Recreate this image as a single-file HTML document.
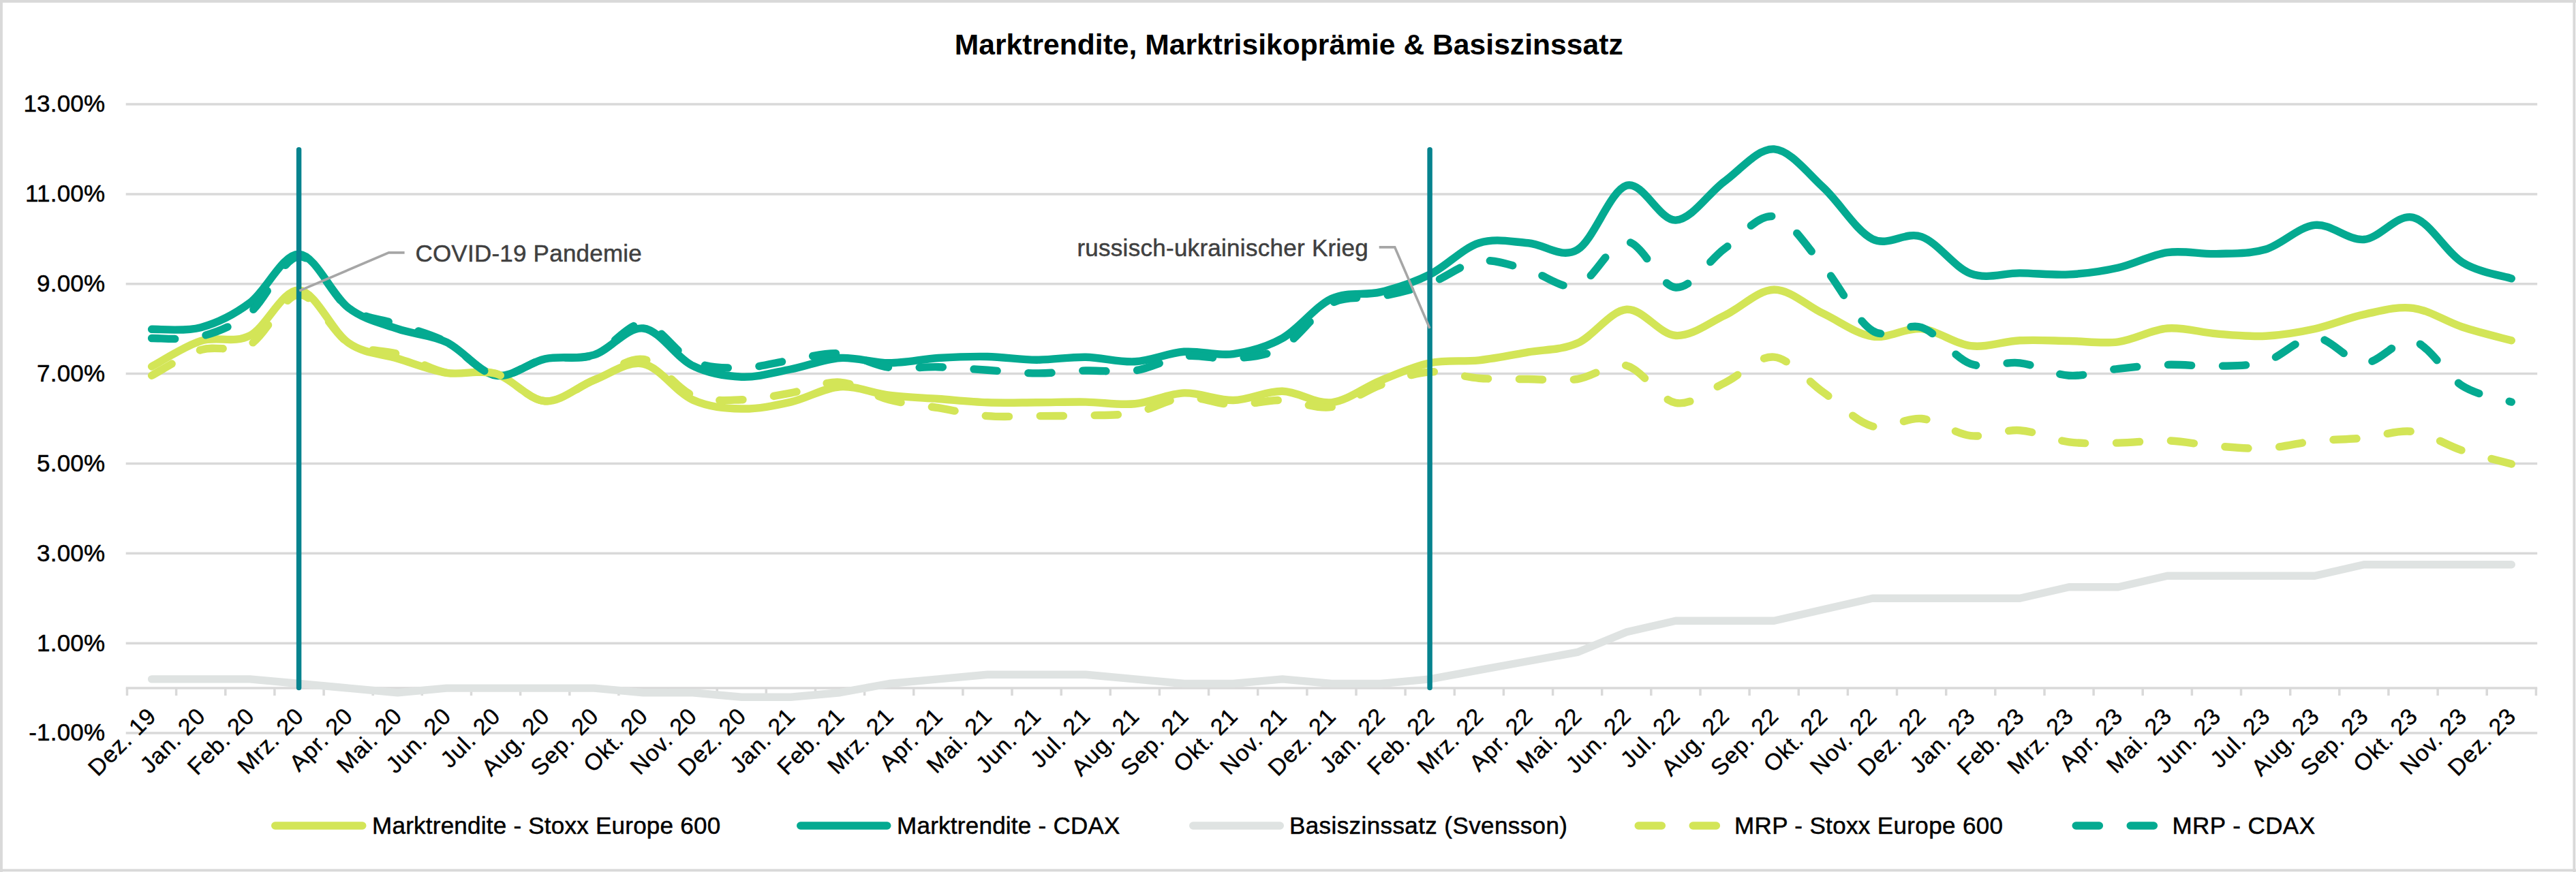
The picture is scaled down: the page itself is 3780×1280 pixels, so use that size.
<!DOCTYPE html>
<html lang="de"><head><meta charset="utf-8"><title>Marktrendite, Marktrisikoprämie &amp; Basiszinssatz</title>
<style>html,body{margin:0;padding:0;background:#fff}body{width:3780px;height:1280px;overflow:hidden}svg{display:block}text{font-family:"Liberation Sans",sans-serif}</style></head><body>
<svg width="3780" height="1280" viewBox="0 0 3780 1280">
<rect x="0" y="0" width="3780" height="1280" fill="#fff"/>
<g fill="#d9d9d9"><rect x="0" y="0" width="3.9" height="1280"/><rect x="0" y="0" width="3780" height="3.9"/><rect x="3775.4" y="0" width="3.9" height="1280"/><rect x="0" y="1275.6" width="3780" height="3.8"/></g>
<text x="1891.2" y="80.4" text-anchor="middle" font-weight="bold" font-size="42.6" textLength="981" lengthAdjust="spacing" fill="#000">Marktrendite, Marktrisikoprämie &amp; Basiszinssatz</text>
<g stroke="#d9d9d9" stroke-width="3.5" fill="none">
<line x1="184.7" y1="153.0" x2="3723.2" y2="153.0"/>
<line x1="184.7" y1="284.9" x2="3723.2" y2="284.9"/>
<line x1="184.7" y1="416.7" x2="3723.2" y2="416.7"/>
<line x1="184.7" y1="548.6" x2="3723.2" y2="548.6"/>
<line x1="184.7" y1="680.5" x2="3723.2" y2="680.5"/>
<line x1="184.7" y1="812.3" x2="3723.2" y2="812.3"/>
<line x1="184.7" y1="944.2" x2="3723.2" y2="944.2"/>
<line x1="184.7" y1="1076.0" x2="3723.2" y2="1076.0"/>
</g>
<g font-size="35" fill="#000" stroke="#000" stroke-width="0.5" stroke-linejoin="round" text-anchor="end" letter-spacing="0.2">
<text x="154.3" y="164.3">13.00%</text>
<text x="154.3" y="296.2">11.00%</text>
<text x="154.3" y="428.0">9.00%</text>
<text x="154.3" y="559.9">7.00%</text>
<text x="154.3" y="691.8">5.00%</text>
<text x="154.3" y="823.6">3.00%</text>
<text x="154.3" y="955.5">1.00%</text>
<text x="154.3" y="1087.3">-1.00%</text>
</g>
<g font-size="34" fill="#000" stroke="#000" stroke-width="0.4" stroke-linejoin="round" text-anchor="end" letter-spacing="1">
<text transform="translate(231.4,1053.1) rotate(-45)">Dez. 19</text>
<text transform="translate(303.5,1053.1) rotate(-45)">Jan. 20</text>
<text transform="translate(375.7,1053.1) rotate(-45)">Feb. 20</text>
<text transform="translate(447.8,1053.1) rotate(-45)">Mrz. 20</text>
<text transform="translate(519.9,1053.1) rotate(-45)">Apr. 20</text>
<text transform="translate(592.1,1053.1) rotate(-45)">Mai. 20</text>
<text transform="translate(664.2,1053.1) rotate(-45)">Jun. 20</text>
<text transform="translate(736.3,1053.1) rotate(-45)">Jul. 20</text>
<text transform="translate(808.5,1053.1) rotate(-45)">Aug. 20</text>
<text transform="translate(880.6,1053.1) rotate(-45)">Sep. 20</text>
<text transform="translate(952.8,1053.1) rotate(-45)">Okt. 20</text>
<text transform="translate(1024.9,1053.1) rotate(-45)">Nov. 20</text>
<text transform="translate(1097.0,1053.1) rotate(-45)">Dez. 20</text>
<text transform="translate(1169.2,1053.1) rotate(-45)">Jan. 21</text>
<text transform="translate(1241.3,1053.1) rotate(-45)">Feb. 21</text>
<text transform="translate(1313.5,1053.1) rotate(-45)">Mrz. 21</text>
<text transform="translate(1385.6,1053.1) rotate(-45)">Apr. 21</text>
<text transform="translate(1457.8,1053.1) rotate(-45)">Mai. 21</text>
<text transform="translate(1529.9,1053.1) rotate(-45)">Jun. 21</text>
<text transform="translate(1602.0,1053.1) rotate(-45)">Jul. 21</text>
<text transform="translate(1674.2,1053.1) rotate(-45)">Aug. 21</text>
<text transform="translate(1746.3,1053.1) rotate(-45)">Sep. 21</text>
<text transform="translate(1818.5,1053.1) rotate(-45)">Okt. 21</text>
<text transform="translate(1890.6,1053.1) rotate(-45)">Nov. 21</text>
<text transform="translate(1962.7,1053.1) rotate(-45)">Dez. 21</text>
<text transform="translate(2034.9,1053.1) rotate(-45)">Jan. 22</text>
<text transform="translate(2107.0,1053.1) rotate(-45)">Feb. 22</text>
<text transform="translate(2179.2,1053.1) rotate(-45)">Mrz. 22</text>
<text transform="translate(2251.3,1053.1) rotate(-45)">Apr. 22</text>
<text transform="translate(2323.4,1053.1) rotate(-45)">Mai. 22</text>
<text transform="translate(2395.6,1053.1) rotate(-45)">Jun. 22</text>
<text transform="translate(2467.7,1053.1) rotate(-45)">Jul. 22</text>
<text transform="translate(2539.9,1053.1) rotate(-45)">Aug. 22</text>
<text transform="translate(2612.0,1053.1) rotate(-45)">Sep. 22</text>
<text transform="translate(2684.1,1053.1) rotate(-45)">Okt. 22</text>
<text transform="translate(2756.3,1053.1) rotate(-45)">Nov. 22</text>
<text transform="translate(2828.4,1053.1) rotate(-45)">Dez. 22</text>
<text transform="translate(2900.6,1053.1) rotate(-45)">Jan. 23</text>
<text transform="translate(2972.7,1053.1) rotate(-45)">Feb. 23</text>
<text transform="translate(3044.8,1053.1) rotate(-45)">Mrz. 23</text>
<text transform="translate(3117.0,1053.1) rotate(-45)">Apr. 23</text>
<text transform="translate(3189.1,1053.1) rotate(-45)">Mai. 23</text>
<text transform="translate(3261.2,1053.1) rotate(-45)">Jun. 23</text>
<text transform="translate(3333.4,1053.1) rotate(-45)">Jul. 23</text>
<text transform="translate(3405.5,1053.1) rotate(-45)">Aug. 23</text>
<text transform="translate(3477.7,1053.1) rotate(-45)">Sep. 23</text>
<text transform="translate(3549.8,1053.1) rotate(-45)">Okt. 23</text>
<text transform="translate(3622.0,1053.1) rotate(-45)">Nov. 23</text>
<text transform="translate(3694.1,1053.1) rotate(-45)">Dez. 23</text>
</g>
<g stroke="#d9d9d9" stroke-width="3.5" fill="none">
<line x1="184.7" y1="1010.1" x2="3723.2" y2="1010.1"/>
<line x1="186.5" y1="1010.1" x2="186.5" y2="1021.1"/>
<line x1="258.6" y1="1010.1" x2="258.6" y2="1021.1"/>
<line x1="330.8" y1="1010.1" x2="330.8" y2="1021.1"/>
<line x1="402.9" y1="1010.1" x2="402.9" y2="1021.1"/>
<line x1="475.1" y1="1010.1" x2="475.1" y2="1021.1"/>
<line x1="547.2" y1="1010.1" x2="547.2" y2="1021.1"/>
<line x1="619.3" y1="1010.1" x2="619.3" y2="1021.1"/>
<line x1="691.5" y1="1010.1" x2="691.5" y2="1021.1"/>
<line x1="763.6" y1="1010.1" x2="763.6" y2="1021.1"/>
<line x1="835.8" y1="1010.1" x2="835.8" y2="1021.1"/>
<line x1="907.9" y1="1010.1" x2="907.9" y2="1021.1"/>
<line x1="980.0" y1="1010.1" x2="980.0" y2="1021.1"/>
<line x1="1052.2" y1="1010.1" x2="1052.2" y2="1021.1"/>
<line x1="1124.3" y1="1010.1" x2="1124.3" y2="1021.1"/>
<line x1="1196.5" y1="1010.1" x2="1196.5" y2="1021.1"/>
<line x1="1268.6" y1="1010.1" x2="1268.6" y2="1021.1"/>
<line x1="1340.7" y1="1010.1" x2="1340.7" y2="1021.1"/>
<line x1="1412.9" y1="1010.1" x2="1412.9" y2="1021.1"/>
<line x1="1485.0" y1="1010.1" x2="1485.0" y2="1021.1"/>
<line x1="1557.2" y1="1010.1" x2="1557.2" y2="1021.1"/>
<line x1="1629.3" y1="1010.1" x2="1629.3" y2="1021.1"/>
<line x1="1701.4" y1="1010.1" x2="1701.4" y2="1021.1"/>
<line x1="1773.6" y1="1010.1" x2="1773.6" y2="1021.1"/>
<line x1="1845.7" y1="1010.1" x2="1845.7" y2="1021.1"/>
<line x1="1917.9" y1="1010.1" x2="1917.9" y2="1021.1"/>
<line x1="1990.0" y1="1010.1" x2="1990.0" y2="1021.1"/>
<line x1="2062.1" y1="1010.1" x2="2062.1" y2="1021.1"/>
<line x1="2134.3" y1="1010.1" x2="2134.3" y2="1021.1"/>
<line x1="2206.4" y1="1010.1" x2="2206.4" y2="1021.1"/>
<line x1="2278.6" y1="1010.1" x2="2278.6" y2="1021.1"/>
<line x1="2350.7" y1="1010.1" x2="2350.7" y2="1021.1"/>
<line x1="2422.8" y1="1010.1" x2="2422.8" y2="1021.1"/>
<line x1="2495.0" y1="1010.1" x2="2495.0" y2="1021.1"/>
<line x1="2567.1" y1="1010.1" x2="2567.1" y2="1021.1"/>
<line x1="2639.3" y1="1010.1" x2="2639.3" y2="1021.1"/>
<line x1="2711.4" y1="1010.1" x2="2711.4" y2="1021.1"/>
<line x1="2783.5" y1="1010.1" x2="2783.5" y2="1021.1"/>
<line x1="2855.7" y1="1010.1" x2="2855.7" y2="1021.1"/>
<line x1="2927.8" y1="1010.1" x2="2927.8" y2="1021.1"/>
<line x1="3000.0" y1="1010.1" x2="3000.0" y2="1021.1"/>
<line x1="3072.1" y1="1010.1" x2="3072.1" y2="1021.1"/>
<line x1="3144.2" y1="1010.1" x2="3144.2" y2="1021.1"/>
<line x1="3216.4" y1="1010.1" x2="3216.4" y2="1021.1"/>
<line x1="3288.5" y1="1010.1" x2="3288.5" y2="1021.1"/>
<line x1="3360.7" y1="1010.1" x2="3360.7" y2="1021.1"/>
<line x1="3432.8" y1="1010.1" x2="3432.8" y2="1021.1"/>
<line x1="3504.9" y1="1010.1" x2="3504.9" y2="1021.1"/>
<line x1="3577.1" y1="1010.1" x2="3577.1" y2="1021.1"/>
<line x1="3649.2" y1="1010.1" x2="3649.2" y2="1021.1"/>
<line x1="3721.4" y1="1010.1" x2="3721.4" y2="1021.1"/>
</g>
<g fill="none" stroke-width="11.4" stroke-linecap="round" stroke-linejoin="round">
<path stroke="#d3e557" d="M222.6,538.0C234.6,531.8 270.7,508.0 294.7,500.5C318.8,492.9 342.8,505.0 366.9,492.5C390.9,480.1 414.9,424.2 439.0,426.0C463.0,427.7 487.1,486.4 511.1,503.1C535.2,519.8 559.2,518.8 583.3,526.2C607.3,533.5 631.4,543.5 655.4,547.3C679.5,551.0 703.5,541.7 727.5,548.6C751.6,555.5 775.6,587.3 799.7,588.8C823.7,590.3 847.8,566.9 871.8,557.8C895.9,548.7 919.9,529.3 944.0,534.1C968.0,538.9 992.1,575.8 1016.1,586.8C1040.2,597.8 1064.2,599.5 1088.2,600.0C1112.3,600.6 1136.3,595.5 1160.4,590.1C1184.4,584.7 1208.5,569.4 1232.5,567.7C1256.6,566.1 1280.6,577.3 1304.7,580.2C1328.7,583.2 1352.8,583.8 1376.8,585.5C1400.9,587.3 1424.9,589.9 1449.0,590.8C1473.0,591.7 1497.0,590.9 1521.1,590.8C1545.1,590.7 1569.2,589.8 1593.2,590.1C1617.3,590.5 1641.3,595.0 1665.4,592.8C1689.4,590.6 1713.5,577.8 1737.5,576.9C1761.6,576.1 1785.6,587.9 1809.7,587.5C1833.7,587.0 1857.7,573.8 1881.8,574.3C1905.8,574.9 1929.9,593.4 1953.9,590.8C1978.0,588.1 2002.0,568.1 2026.1,558.5C2050.1,548.8 2074.2,537.7 2098.2,532.8C2122.3,527.8 2146.3,531.4 2170.3,528.8C2194.4,526.2 2218.4,521.1 2242.5,516.9C2266.5,512.8 2290.6,514.2 2314.6,503.8C2338.7,493.3 2362.7,456.2 2386.8,454.3C2410.8,452.4 2434.9,491.1 2458.9,492.5C2483.0,494.0 2507.0,474.1 2531.1,462.9C2555.1,451.7 2579.1,425.7 2603.2,425.3C2627.2,424.9 2651.3,448.8 2675.3,460.2C2699.4,471.7 2723.4,490.1 2747.5,493.9C2771.5,497.6 2795.6,480.4 2819.6,482.7C2843.7,485.0 2867.7,504.9 2891.8,507.7C2915.8,510.6 2939.8,501.0 2963.9,499.8C2987.9,498.6 3012.0,500.1 3036.0,500.5C3060.1,500.8 3084.1,504.9 3108.2,501.8C3132.2,498.7 3156.3,484.0 3180.3,482.0C3204.4,480.0 3228.4,488.0 3252.4,489.9C3276.5,491.8 3300.5,494.4 3324.6,493.2C3348.6,492.0 3372.7,487.9 3396.7,482.7C3420.8,477.4 3444.8,466.6 3468.9,461.6C3492.9,456.5 3517.0,449.3 3541.0,452.3C3565.1,455.4 3589.1,472.1 3613.2,480.0C3637.2,487.9 3673.3,496.5 3685.3,499.8"/>
<path stroke="#04aa91" d="M222.6,483.3C234.6,482.9 270.7,487.2 294.7,480.7C318.8,474.2 342.8,462.3 366.9,444.4C390.9,426.5 414.9,372.0 439.0,373.2C463.0,374.4 487.1,433.4 511.1,451.7C535.2,469.9 559.2,474.2 583.3,482.7C607.3,491.1 631.4,491.0 655.4,502.4C679.5,513.9 703.5,547.2 727.5,551.2C751.6,555.3 775.6,531.9 799.7,526.8C823.7,521.8 847.8,528.4 871.8,520.9C895.9,513.4 919.9,479.4 944.0,482.0C968.0,484.6 992.1,524.9 1016.1,536.7C1040.2,548.6 1064.2,552.3 1088.2,553.2C1112.3,554.1 1136.3,546.6 1160.4,542.0C1184.4,537.4 1208.5,527.1 1232.5,525.5C1256.6,524.0 1280.6,532.8 1304.7,532.8C1328.7,532.8 1352.8,527.1 1376.8,525.5C1400.9,524.0 1424.9,523.1 1449.0,523.5C1473.0,524.0 1497.0,528.0 1521.1,528.2C1545.1,528.3 1569.2,523.8 1593.2,524.2C1617.3,524.6 1641.3,532.1 1665.4,530.8C1689.4,529.5 1713.5,518.2 1737.5,516.3C1761.6,514.4 1785.6,522.9 1809.7,519.6C1833.7,516.3 1857.7,510.0 1881.8,496.5C1905.8,483.0 1929.9,449.8 1953.9,438.5C1978.0,427.2 2002.0,434.5 2026.1,428.6C2050.1,422.7 2074.2,414.9 2098.2,402.9C2122.3,390.9 2146.3,364.4 2170.3,356.7C2194.4,349.0 2218.4,355.1 2242.5,356.7C2266.5,358.4 2290.6,380.7 2314.6,366.6C2338.7,352.6 2362.7,279.6 2386.8,272.3C2410.8,265.1 2434.9,324.2 2458.9,323.1C2483.0,322.0 2507.0,283.1 2531.1,265.8C2555.1,248.4 2579.1,217.4 2603.2,218.9C2627.2,220.5 2651.3,253.0 2675.3,275.0C2699.4,297.0 2723.4,338.7 2747.5,350.8C2771.5,362.9 2795.6,339.0 2819.6,347.5C2843.7,356.0 2867.7,392.7 2891.8,401.6C2915.8,410.5 2939.8,400.7 2963.9,400.9C2987.9,401.1 3012.0,404.2 3036.0,402.9C3060.1,401.6 3084.1,398.4 3108.2,393.0C3132.2,387.6 3156.3,374.0 3180.3,370.6C3204.4,367.2 3228.4,373.3 3252.4,372.6C3276.5,371.8 3300.5,373.0 3324.6,366.0C3348.6,358.9 3372.7,332.8 3396.7,330.4C3420.8,327.9 3444.8,353.3 3468.9,351.5C3492.9,349.6 3517.0,313.5 3541.0,319.2C3565.1,324.8 3589.1,370.1 3613.2,385.1C3637.2,400.0 3673.3,404.9 3685.3,408.8"/>
<path stroke="#dfe3e2" d="M222.6,996.9L294.7,996.9L366.9,996.9L439.0,1003.5L511.1,1010.1L583.3,1016.7L655.4,1010.1L727.5,1010.1L799.7,1010.1L871.8,1010.1L944.0,1016.7L1016.1,1016.7L1088.2,1023.3L1160.4,1023.3L1232.5,1016.7L1304.7,1003.5L1376.8,996.9L1449.0,990.3L1521.1,990.3L1593.2,990.3L1665.4,996.9L1737.5,1003.5L1809.7,1003.5L1881.8,996.9L1953.9,1003.5L2026.1,1003.5L2098.2,996.9L2170.3,983.7L2242.5,970.5L2314.6,957.4L2386.8,927.7L2458.9,911.2L2531.1,911.2L2603.2,911.2L2675.3,894.7L2747.5,878.2L2819.6,878.2L2891.8,878.2L2963.9,878.2L3036.0,861.8L3108.2,861.8L3180.3,845.3L3252.4,845.3L3324.6,845.3L3396.7,845.3L3468.9,828.8L3541.0,828.8L3613.2,828.8L3685.3,828.8"/>
<path stroke="#d3e557" stroke-dasharray="34.2 45.8" d="M222.6,551.2C234.6,545.0 270.7,521.2 294.7,513.6C318.8,506.1 342.8,519.3 366.9,505.7C390.9,492.2 414.9,433.0 439.0,432.6C463.0,432.1 487.1,488.6 511.1,503.1C535.2,517.6 559.2,512.2 583.3,519.6C607.3,526.9 631.4,542.4 655.4,547.3C679.5,552.1 703.5,541.7 727.5,548.6C751.6,555.5 775.6,587.3 799.7,588.8C823.7,590.3 847.8,568.0 871.8,557.8C895.9,547.6 919.9,523.8 944.0,527.5C968.0,531.2 992.1,570.3 1016.1,580.2C1040.2,590.1 1064.2,587.4 1088.2,586.8C1112.3,586.3 1136.3,581.2 1160.4,576.9C1184.4,572.7 1208.5,559.5 1232.5,561.1C1256.6,562.8 1280.6,580.6 1304.7,586.8C1328.7,593.1 1352.8,594.7 1376.8,598.7C1400.9,602.7 1424.9,608.6 1449.0,610.6C1473.0,612.5 1497.0,610.7 1521.1,610.6C1545.1,610.5 1569.2,610.7 1593.2,609.9C1617.3,609.1 1641.3,610.3 1665.4,605.9C1689.4,601.6 1713.5,585.5 1737.5,583.5C1761.6,581.6 1785.6,593.4 1809.7,594.1C1833.7,594.7 1857.7,586.9 1881.8,587.5C1905.8,588.0 1929.9,601.1 1953.9,597.4C1978.0,593.6 2002.0,573.6 2026.1,565.1C2050.1,556.5 2074.2,547.6 2098.2,546.0C2122.3,544.3 2146.3,553.4 2170.3,555.2C2194.4,556.9 2218.4,556.3 2242.5,556.5C2266.5,556.7 2290.6,559.8 2314.6,556.5C2338.7,553.2 2362.7,530.9 2386.8,536.7C2410.8,542.5 2434.9,587.3 2458.9,591.4C2483.0,595.6 2507.0,573.0 2531.1,561.8C2555.1,550.6 2579.1,521.9 2603.2,524.2C2627.2,526.5 2651.3,558.7 2675.3,575.6C2699.4,592.5 2723.4,619.2 2747.5,625.7C2771.5,632.2 2795.6,612.2 2819.6,614.5C2843.7,616.8 2867.7,636.7 2891.8,639.6C2915.8,642.4 2939.8,630.1 2963.9,631.7C2987.9,633.2 3012.0,645.7 3036.0,648.8C3060.1,651.9 3084.1,650.5 3108.2,650.1C3132.2,649.8 3156.3,646.1 3180.3,646.8C3204.4,647.6 3228.4,652.9 3252.4,654.7C3276.5,656.6 3300.5,659.2 3324.6,658.0C3348.6,656.8 3372.7,650.0 3396.7,647.5C3420.8,645.0 3444.8,645.2 3468.9,642.9C3492.9,640.6 3517.0,630.6 3541.0,633.6C3565.1,636.7 3589.1,653.4 3613.2,661.3C3637.2,669.2 3673.3,677.8 3685.3,681.1"/>
<path stroke="#04aa91" stroke-dasharray="34.2 45.8" d="M222.6,496.5C234.6,496.1 270.7,500.1 294.7,493.9C318.8,487.6 342.8,478.5 366.9,458.9C390.9,439.4 414.9,377.7 439.0,376.5C463.0,375.3 487.1,435.1 511.1,451.7C535.2,468.3 559.2,467.6 583.3,476.1C607.3,484.5 631.4,489.9 655.4,502.4C679.5,515.0 703.5,547.2 727.5,551.2C751.6,555.3 775.6,531.9 799.7,526.8C823.7,521.8 847.8,529.5 871.8,520.9C895.9,512.3 919.9,473.9 944.0,475.4C968.0,476.9 992.1,519.4 1016.1,530.1C1040.2,540.9 1064.2,540.2 1088.2,540.0C1112.3,539.8 1136.3,532.3 1160.4,528.8C1184.4,525.3 1208.5,517.2 1232.5,518.9C1256.6,520.7 1280.6,536.1 1304.7,539.4C1328.7,542.7 1352.8,538.0 1376.8,538.7C1400.9,539.4 1424.9,541.8 1449.0,543.3C1473.0,544.9 1497.0,547.8 1521.1,547.9C1545.1,548.0 1569.2,544.6 1593.2,544.0C1617.3,543.3 1641.3,547.5 1665.4,544.0C1689.4,540.5 1713.5,525.8 1737.5,522.9C1761.6,519.9 1785.6,528.4 1809.7,526.2C1833.7,524.0 1857.7,523.2 1881.8,509.7C1905.8,496.2 1929.9,457.5 1953.9,445.1C1978.0,432.7 2002.0,440.0 2026.1,435.2C2050.1,430.4 2074.2,424.8 2098.2,416.1C2122.3,407.4 2146.3,386.4 2170.3,383.1C2194.4,379.8 2218.4,390.2 2242.5,396.3C2266.5,402.3 2290.6,426.3 2314.6,419.4C2338.7,412.4 2362.7,354.3 2386.8,354.8C2410.8,355.2 2434.9,420.4 2458.9,422.0C2483.0,423.7 2507.0,382.0 2531.1,364.6C2555.1,347.3 2579.1,313.5 2603.2,317.8C2627.2,322.1 2651.3,362.4 2675.3,390.4C2699.4,418.3 2723.4,470.2 2747.5,485.3C2771.5,500.4 2795.6,472.6 2819.6,480.7C2843.7,488.8 2867.7,525.4 2891.8,534.1C2915.8,542.8 2939.8,529.9 2963.9,532.8C2987.9,535.6 3012.0,549.8 3036.0,551.2C3060.1,552.7 3084.1,544.0 3108.2,541.3C3132.2,538.7 3156.3,536.1 3180.3,535.4C3204.4,534.7 3228.4,538.2 3252.4,537.4C3276.5,536.6 3300.5,537.8 3324.6,530.8C3348.6,523.8 3372.7,494.9 3396.7,495.2C3420.8,495.5 3444.8,531.9 3468.9,532.8C3492.9,533.6 3517.0,494.9 3541.0,500.5C3565.1,506.1 3589.1,551.4 3613.2,566.4C3637.2,581.3 3673.3,586.2 3685.3,590.1"/>
</g>
<g stroke="#06838e" stroke-width="7.5" stroke-linecap="round">
<line x1="438.6" y1="219.7" x2="438.6" y2="1009.5"/>
<line x1="2098.1" y1="219.7" x2="2098.1" y2="1009.5"/>
</g>
<g fill="none" stroke="#a6a6a6" stroke-width="3.6" stroke-linejoin="miter">
<polyline points="593.6,370.9 570.5,370.9 439.3,426.8"/>
<polyline points="2023.7,362.9 2046.7,362.9 2098.0,482.0"/>
</g>
<g font-size="35" fill="#404040" stroke="#404040" stroke-width="0.5" stroke-linejoin="round">
<text x="609.4" y="383.5" textLength="332.4" lengthAdjust="spacing">COVID-19 Pandemie</text>
<text x="1580.4" y="375.8" textLength="427.3" lengthAdjust="spacing">russisch-ukrainischer Krieg</text>
</g>
<g fill="none" stroke-width="11.4" stroke-linecap="round">
<line stroke="#d3e557" x1="403.7" y1="1212.0" x2="531.8" y2="1212.0"/>
<line stroke="#04aa91" x1="1174.7" y1="1212.0" x2="1301.8" y2="1212.0"/>
<line stroke="#dfe3e2" x1="1750.7" y1="1212.0" x2="1878.3" y2="1212.0"/>
<line stroke="#d3e557" stroke-dasharray="34.2 45.8" x1="2404.2" y1="1212.0" x2="2531.8" y2="1212.0"/>
<line stroke="#04aa91" stroke-dasharray="34.2 45.8" x1="3046.2" y1="1212.0" x2="3173.8" y2="1212.0"/>
</g>
<g font-size="35" fill="#000" stroke="#000" stroke-width="0.5" stroke-linejoin="round">
<text x="546.1" y="1223.8" textLength="511" lengthAdjust="spacing">Marktrendite - Stoxx Europe 600</text>
<text x="1316.1" y="1223.8" textLength="327.3" lengthAdjust="spacing">Marktrendite - CDAX</text>
<text x="1892" y="1223.8" textLength="408" lengthAdjust="spacing">Basiszinssatz (Svensson)</text>
<text x="2545" y="1223.8" textLength="394" lengthAdjust="spacing">MRP - Stoxx Europe 600</text>
<text x="3187.5" y="1223.8" textLength="209.5" lengthAdjust="spacing">MRP - CDAX</text>
</g>
</svg></body></html>
